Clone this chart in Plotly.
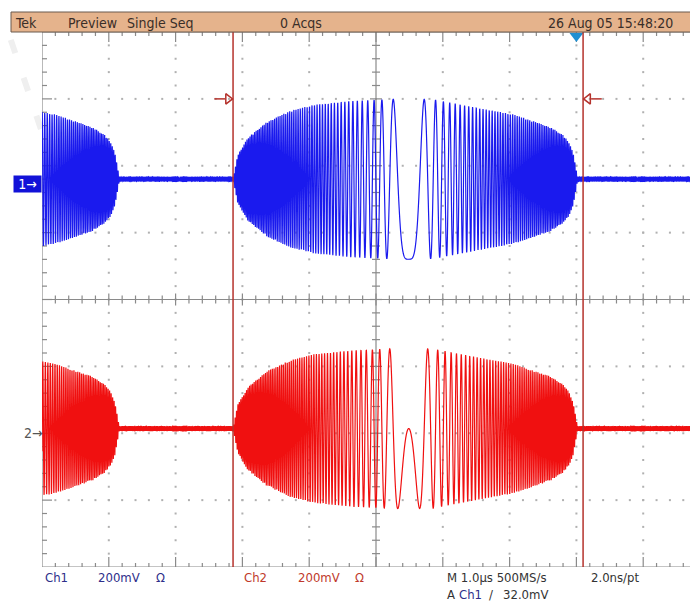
import numpy as np
import plotly.graph_objects as go

# ---------------- data (units: graticule divisions) ----------------
# screen: x 0..10 div (1.0 us/div), y -4..4 div (200 mV/div)
ENV_T = [0.00, 0.07, 0.22, 0.51, 0.85, 1.20, 1.80, 2.55, 3.00, 3.74, 4.19, 4.49, 4.75, 4.94, 5.03, 5.09, 5.13, 5.16]
ENV_A = [0.00, 0.36, 0.62, 0.86, 1.02, 1.11, 1.17, 1.20, 1.19, 1.05, 0.97, 0.87, 0.78, 0.66, 0.55, 0.40, 0.18, 0.00]
BURST_STARTS = [-4.00, 2.86, 9.72]        # burst start times (div)
CHIRP_CENTERS = [-1.37, 5.49, 12.35]      # zero-frequency instants (div)
CHIRP_RATE = 58.4                         # rad/div^2
NOISE_FLOOR = 0.035                       # div
CH1_LEVEL, CH2_LEVEL = 1.80, -1.93        # trace baselines (div)
CH1_MARK, CH2_MARK = 1.72, -1.99          # ground markers (div)
SAMPLES_PER_DIV = 500                     # 500 MS/s at 1 us/div
CURSORS = [2.86, 8.10]
CURSOR_LEVEL = 3.0
TRIGGER_POS = 8.0

HEADER = [("Tek", 13), ("Preview", 66), ("Single Seq", 125), ("0 Acqs", 278), ("26 Aug 05 15:48:20", 546)]
FOOT1 = [("Ch1", 43, "#2e2e8a"), ("200mV", 96, "#2e2e8a"), ("\u03a9", 154, "#2e2e8a"),
         ("Ch2", 242, "#c0392b"), ("200mV", 296, "#c0392b"), ("\u03a9", 353, "#c0392b"),
         ("M 1.0\u00b5s 500MS/s", 445, "#333333"), ("2.0ns/pt", 589, "#333333")]
FOOT2 = [("A", 445, "#333333"), ("Ch1", 457, "#2e2e8a"), ("/", 487, "#333333"), ("32.0mV", 501, "#333333")]

# ---------------- geometry (page pixels; the page body has an 8 px margin) ----------------
PAGE_W, PAGE_H = 698, 614
OFF = 8
W, H = PAGE_W - OFF, PAGE_H - OFF
GX0, GY0, GY1 = 42, 32, 567          # graticule left / top / bottom in page pixels
L, T, B = GX0 - OFF, GY0 - OFF, PAGE_H - GY1
PW, PH = W - L - 0, H - T - B
XDIV = 66.8
YDIV = PH / 8.0
XMAX = PW / XDIV
FONT = "Liberation Sans Narrow, DejaVu Sans Condensed, Arial Narrow, sans-serif"
FS = 14
FS_FOOT = 13


def px(xp):
    return (xp - GX0) / PW


def py(yp):
    return (GY1 - yp) / PH


# ---------------- waveform ----------------
t = np.arange(0, XMAX + 1e-9, 1.0 / SAMPLES_PER_DIV)
env = np.zeros_like(t)
for bs in BURST_STARTS:
    env = np.maximum(env, np.interp(t - bs, ENV_T, ENV_A, left=0, right=0))
env = np.maximum(env, NOISE_FLOOR)
centers = np.array(CHIRP_CENTERS)
u = t - centers[np.argmin(np.abs(t[:, None] - centers[None, :]), axis=1)]
phase = CHIRP_RATE * u ** 2
ch1 = CH1_LEVEL - env * np.cos(phase)
ch2 = CH2_LEVEL - env * np.sin(phase)

fig = go.Figure()

# grid dots
gx, gy = [], []
for i in range(1, 10):
    if i == 5:
        continue
    for j in np.arange(-3.8, 3.81, 0.2):
        gx.append(i); gy.append(j)
for j in [-3, -2, -1, 1, 2, 3]:
    for i in np.arange(0.2, 10, 0.2):
        gx.append(i); gy.append(j)
fig.add_trace(go.Scatter(x=gx, y=gy, mode="markers", hoverinfo="skip",
                         marker=dict(symbol="square", size=2, color="#b0b0b0")))

# frame and center-axis ticks
lx, ly = [], []
def seg(x0, y0, x1, y1):
    lx.extend([x0, x1, None]); ly.extend([y0, y1, None])

seg(0, -4, 0, 4); seg(0, -4, 10, -4); seg(0, 4, 10, 4)
seg(5, -4, 5, 4); seg(0, 0, 10, 0)
for k in range(1, 40):
    y = -4 + 0.2 * k
    major = k % 5 == 0
    seg(0, y, (10 if major else 5) / XDIV, y)
    seg(5 - (6 if major else 4) / XDIV, y, 5 + (6 if major else 4) / XDIV, y)
for k in range(1, 50):
    x = 0.2 * k
    major = k % 5 == 0
    seg(x, 4, x, 4 - (10 if major else 4) / YDIV)
    seg(x, -4, x, -4 + (10 if major else 4) / YDIV)
    seg(x, -(6 if major else 4) / YDIV, x, (6 if major else 4) / YDIV)
fig.add_trace(go.Scatter(x=lx, y=ly, mode="lines", hoverinfo="skip",
                         line=dict(color="#8a8a8a", width=1.2)))

# waveforms
fig.add_trace(go.Scatter(x=t, y=ch1, mode="lines", hoverinfo="skip",
                         line=dict(color="#1a1aee", width=1.2, simplify=False)))
fig.add_trace(go.Scatter(x=t, y=ch2, mode="lines", hoverinfo="skip",
                         line=dict(color="#f01010", width=1.2, simplify=False)))

# cursors
shapes = []
for c in CURSORS:
    shapes.append(dict(type="line", xref="x", yref="y", x0=c, x1=c, y0=-4, y1=4,
                       line=dict(color="#b5322c", width=1.5)))
fig.add_trace(go.Scatter(x=[CURSORS[0] - 0.28, CURSORS[0] - 0.12, None, CURSORS[1] + 0.12, CURSORS[1] + 0.28],
                         y=[CURSOR_LEVEL] * 2 + [None] + [CURSOR_LEVEL] * 2, mode="lines",
                         hoverinfo="skip", line=dict(color="#b5322c", width=1.5)))
fig.add_trace(go.Scatter(x=[CURSORS[0] - 0.075, CURSORS[1] + 0.075], y=[CURSOR_LEVEL] * 2, mode="markers",
                         hoverinfo="skip",
                         marker=dict(symbol=["triangle-right-open", "triangle-left-open"], size=9,
                                     color="#b5322c", line=dict(width=1.5))))
# trigger marker
fig.add_trace(go.Scatter(x=[TRIGGER_POS], y=[4 - 4 / YDIV], mode="markers", hoverinfo="skip",
                         cliponaxis=False,
                         marker=dict(symbol="triangle-down", size=12, color="#1e8fd2")))

# header bar
shapes.append(dict(type="rect", xref="paper", yref="paper", x0=px(11), x1=px(PAGE_W + 2), y0=py(32), y1=py(12),
                   fillcolor="#e5b38c", line=dict(color="#6b5a4e", width=1), layer="above"))
# faint watermark stroke
shapes.append(dict(type="line", xref="paper", yref="paper", x0=px(-2), y0=py(2), x1=px(48), y1=py(150),
                   line=dict(color="#efefef", width=6, dash="14px,26px"), layer="below"))

ann = []
for txt, xp in HEADER:
    ann.append(dict(text=txt, x=px(xp), y=py(22.5), xref="paper", yref="paper", xanchor="left",
                    yanchor="middle", showarrow=False, font=dict(family=FONT, size=FS, color="#3a2e28")))
for txt, xp, col in FOOT1:
    ann.append(dict(text=txt, x=px(xp), y=py(577), xref="paper", yref="paper", xanchor="left",
                    yanchor="middle", showarrow=False, font=dict(family=FONT, size=FS_FOOT, color=col)))
for txt, xp, col in FOOT2:
    ann.append(dict(text=txt, x=px(xp), y=py(594), xref="paper", yref="paper", xanchor="left",
                    yanchor="middle", showarrow=False, font=dict(family=FONT, size=FS_FOOT, color=col)))
# channel markers
ann.append(dict(text="1\u2192", x=px(13), y=CH1_MARK, xref="paper", yref="y", xanchor="left",
                yanchor="middle", showarrow=False, bgcolor="#1212d8", width=25, height=14, borderpad=1,
                font=dict(family=FONT, size=FS, color="white")))
ann.append(dict(text="2\u2192", x=px(22), y=CH2_MARK, xref="paper", yref="y", xanchor="left",
                yanchor="middle", showarrow=False, font=dict(family=FONT, size=FS, color="#555555")))

fig.update_layout(
    width=W, height=H, margin=dict(l=L, r=0, t=T, b=B),
    paper_bgcolor="white", plot_bgcolor="white", showlegend=False,
    xaxis=dict(range=[0, XMAX], visible=False, fixedrange=True),
    yaxis=dict(range=[-4, 4], visible=False, fixedrange=True),
    shapes=shapes, annotations=ann,
)
fig.write_html("out.html")
